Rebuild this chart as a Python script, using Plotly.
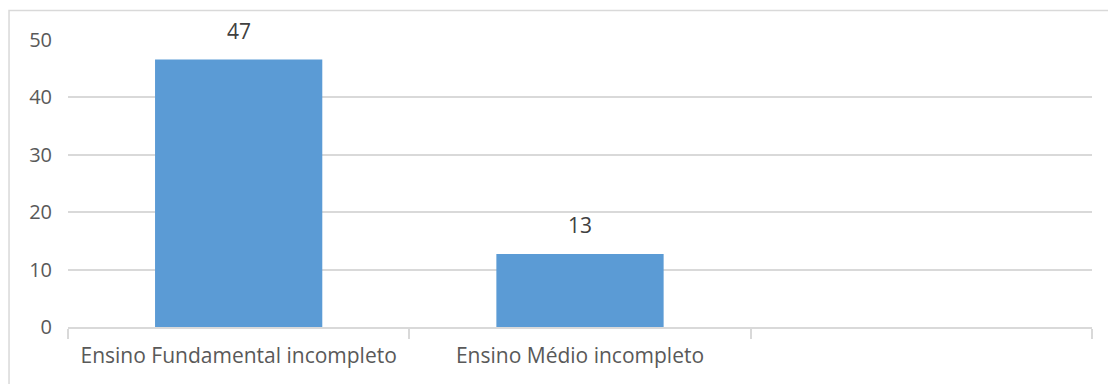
import plotly.graph_objects as go

categories = ["Ensino Fundamental incompleto", "Ensino Médio incompleto", " "]
values = [46.6, 12.7, None]
y_ticks = [0, 10, 20, 30, 40, 50]

text_color = "#595959"
grid_color = "#D9D9D9"
bar_color = "#5B9BD5"
font_family = "Open Sans"

fig = go.Figure()
fig.add_trace(go.Bar(
    x=categories, y=values,
    marker=dict(color=bar_color, line=dict(width=0)),
    hoverinfo="skip",
))

for c, v in zip(categories, values):
    if v is not None:
        fig.add_annotation(
            x=c, y=v, text=f"{v:.0f}", showarrow=False,
            yanchor="bottom", yshift=13,
            font=dict(family=font_family, size=21, color="#404040"),
        )

fig.add_shape(type="rect", xref="paper", yref="paper",
              x0=-0.0576, x1=1.2, y0=-0.5, y1=1.1028,
              line=dict(color=grid_color, width=1.5), fillcolor="rgba(0,0,0,0)", layer="below")

fig.update_layout(
    width=1108, height=384,
    margin=dict(l=68, r=16, t=40, b=57),
    paper_bgcolor="white", plot_bgcolor="white",
    bargap=0.51,
    showlegend=False,
    font=dict(family=font_family, color=text_color),
    xaxis=dict(
        type="category",
        categoryorder="array", categoryarray=categories,
        showline=True, linecolor=grid_color, linewidth=1.5,
        ticks="outside", tickson="boundaries", ticklen=10, tickcolor=grid_color, tickwidth=1.5,
        tickfont=dict(family=font_family, size=21, color=text_color),
        showgrid=False, zeroline=False,
        ticklabelstandoff=9,
    ),
    yaxis=dict(
        range=[0, 50], tickvals=y_ticks,
        showgrid=True, gridcolor=grid_color, gridwidth=1.5,
        zeroline=False, showline=False,
        ticks="", tickfont=dict(family=font_family, size=20, color=text_color),
        ticklabelstandoff=15,
    ),
)

fig.write_html("out.html")
